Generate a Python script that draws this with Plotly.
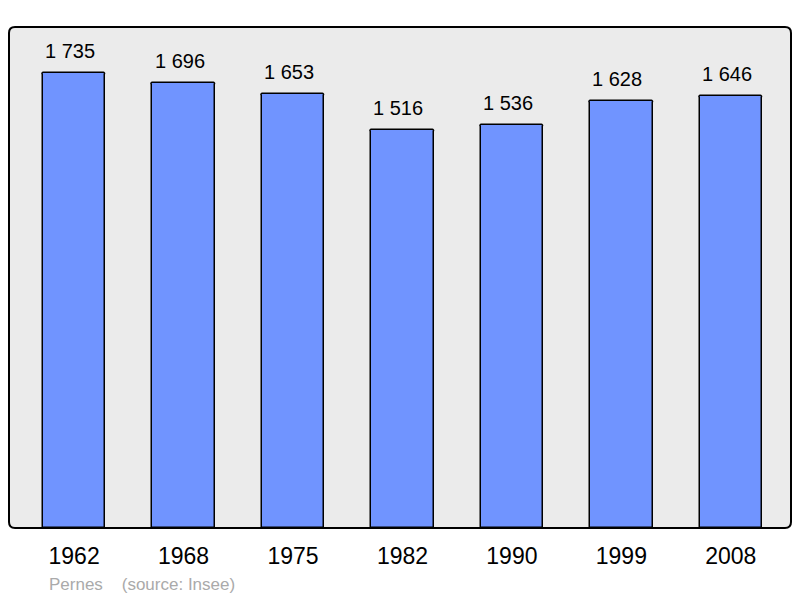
import plotly.graph_objects as go

years = ["1962", "1968", "1975", "1982", "1990", "1999", "2008"]
population = [1735, 1696, 1653, 1516, 1536, 1628, 1646]
labels = [f"{v:,}".replace(",", " ") for v in population]

FONT = "Liberation Sans, Arial, sans-serif"
L, R, T, B = 9, 791, 27, 528
W, H = 800, 598
PW, PH = R - L, B - T

fig = go.Figure()
fig.add_trace(go.Bar(
    x=list(range(len(years))), y=population,
    width=0.57,
    marker=dict(color="#7094ff", line=dict(color="black", width=1.5), cornerradius=2),
    hoverinfo="skip",
))

for i, (v, t) in enumerate(zip(population, labels)):
    fig.add_annotation(x=i, y=v, text=t, showarrow=False, yanchor="bottom", yshift=9, xshift=-4,
                       font=dict(family=FONT, size=20, color="black"))

fig.add_annotation(xref="paper", yref="paper", x=(47 - L) / PW, y=-(584 - B) / PH,
                   xanchor="left", yanchor="middle",
                   text="Pernes &nbsp;&nbsp;&nbsp;(source: Insee)", showarrow=False,
                   font=dict(family=FONT, size=17, color="#aaaaaa"))

# rounded plot frame
r = 6
rx, ry = r / PW, r / PH
path = (f"M {rx} 0 L {1-rx} 0 Q 1 0 1 {ry} L 1 {1-ry} Q 1 1 {1-rx} 1 "
        f"L {rx} 1 Q 0 1 0 {1-ry} L 0 {ry} Q 0 0 {rx} 0 Z")
fig.add_shape(type="path", xref="paper", yref="paper", path=path,
              line=dict(width=0), fillcolor="#ebebeb", layer="below")
fig.add_shape(type="path", xref="paper", yref="paper", path=path,
              line=dict(color="black", width=2), fillcolor="rgba(0,0,0,0)", layer="above")

fig.update_layout(
    width=W, height=H,
    margin=dict(l=L, r=W - R, t=T, b=H - B, autoexpand=False),
    paper_bgcolor="white", plot_bgcolor="rgba(0,0,0,0)",
    showlegend=False,
    font=dict(family=FONT),
    xaxis=dict(tickmode="array", tickvals=list(range(len(years))), ticktext=years,
               range=[-0.595, 6.55], showgrid=False, zeroline=False,
               tickfont=dict(size=23, color="black"), ticks="", ticklen=0,
               ticklabelstandoff=12),
    yaxis=dict(range=[0, 1910], showgrid=False, zeroline=False, showticklabels=False, ticks=""),
    bargap=0,
)
fig.write_html("out.html", config={"displayModeBar": False},
               post_script="document.body.style.margin='0';")
